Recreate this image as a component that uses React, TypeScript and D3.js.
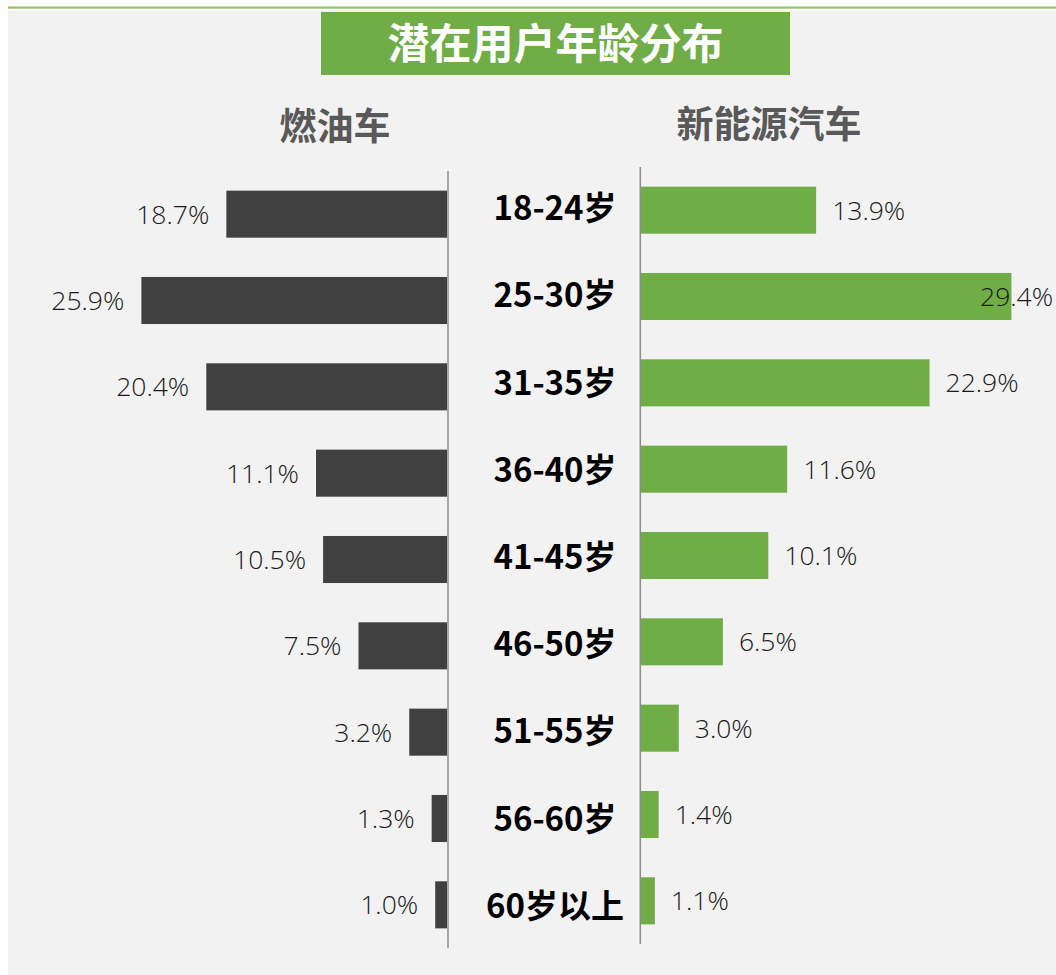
import React from "react";
import * as d3 from "d3";

const categories = ["18-24岁", "25-30岁", "31-35岁", "36-40岁", "41-45岁", "46-50岁", "51-55岁", "56-60岁", "60岁以上"];
const fuelValues = [18.7, 25.9, 20.4, 11.1, 10.5, 7.5, 3.2, 1.3, 1.0];
const nevValues = [13.9, 29.4, 22.9, 11.6, 10.1, 6.5, 3.0, 1.4, 1.1];
const title = "潜在用户年龄分布";
const leftTitle = "燃油车";
const rightTitle = "新能源汽车";

const W = 1056;
const H = 975;

export default function App() {
  const xLeft = d3.scaleLinear().domain([0, 30]).range([447, 447 - 354]);
  const xRight = d3.scaleLinear().domain([0, 30]).range([641, 641 + 378]);
  const yLeft = d3.scaleBand<string>().domain(categories).range([171, 948]).paddingInner(0.455).paddingOuter(0.2275);
  const yRight = d3.scaleBand<string>().domain(categories).range([167, 944]).paddingInner(0.455).paddingOuter(0.2275);
  const yLabel = d3.scaleBand<string>().domain(categories).range([164.5, 949.5]);
  const fmt = (v: number) => d3.format(".1f")(v) + "%";
  const valueFont = "'Open Sans', 'Noto Sans', sans-serif";
  const cjkFont = "'Noto Sans CJK SC', 'Noto Sans', sans-serif";

  return (
    <svg width={W} height={H} style={{ position: "absolute", left: 0, top: 0, background: "#ffffff" }}>
      <rect x={8} y={10.5} width={W - 8} height={H - 10.5} fill="#f2f2f2" />
      <rect x={8} y={6.5} width={W - 8} height={2.2} fill="#8fc36b" />
      <rect x={321} y={12} width={469} height={63} fill="#70ad47" />
      <text x={555.5} y={59} textAnchor="middle" fill="#ffffff" fontFamily={cjkFont} fontWeight={700} fontSize={42}>{title}</text>
      <text x={335} y={140} textAnchor="middle" fill="#595959" fontFamily={cjkFont} fontWeight={700} fontSize={37}>{leftTitle}</text>
      <text x={769} y={138} textAnchor="middle" fill="#595959" fontFamily={cjkFont} fontWeight={700} fontSize={37}>{rightTitle}</text>

      {categories.map((c, i) => {
        const v = fuelValues[i];
        const y = yLeft(c)!;
        const h = yLeft.bandwidth();
        return (
          <g key={"l" + c}>
            <rect x={xLeft(v)} y={y} width={xLeft(0) - xLeft(v)} height={h} fill="#404040" />
            <text x={xLeft(v) - 17} y={y + h / 2 + 9.5} textAnchor="end" fill="#1a1a1a" fontFamily={valueFont} fontWeight={300} fontSize={26.5}>{fmt(v)}</text>
          </g>
        );
      })}
      {categories.map((c, i) => {
        const v = nevValues[i];
        const y = yRight(c)!;
        const h = yRight.bandwidth();
        return (
          <g key={"r" + c}>
            <rect x={xRight(0)} y={y} width={xRight(v) - xRight(0)} height={h} fill="#70ad47" />
            <text x={Math.min(xRight(v) + 16, 980)} y={y + h / 2 + 9.5} textAnchor="start" fill="#1a1a1a" fontFamily={valueFont} fontWeight={300} fontSize={26.5}>{fmt(v)}</text>
          </g>
        );
      })}
      <line x1={448} x2={448} y1={171} y2={948} stroke="#8c8c8c" strokeWidth={1.5} />
      <line x1={640.3} x2={640.3} y1={167} y2={944} stroke="#8c8c8c" strokeWidth={1.5} />
      {categories.map((c) => (
        <text key={"c" + c} x={555} y={yLabel(c)! + yLabel.bandwidth() / 2 + 12} textAnchor="middle" fill="#000000" fontFamily={cjkFont} fontWeight={700} fontSize={33}>{c}</text>
      ))}
    </svg>
  );
}
